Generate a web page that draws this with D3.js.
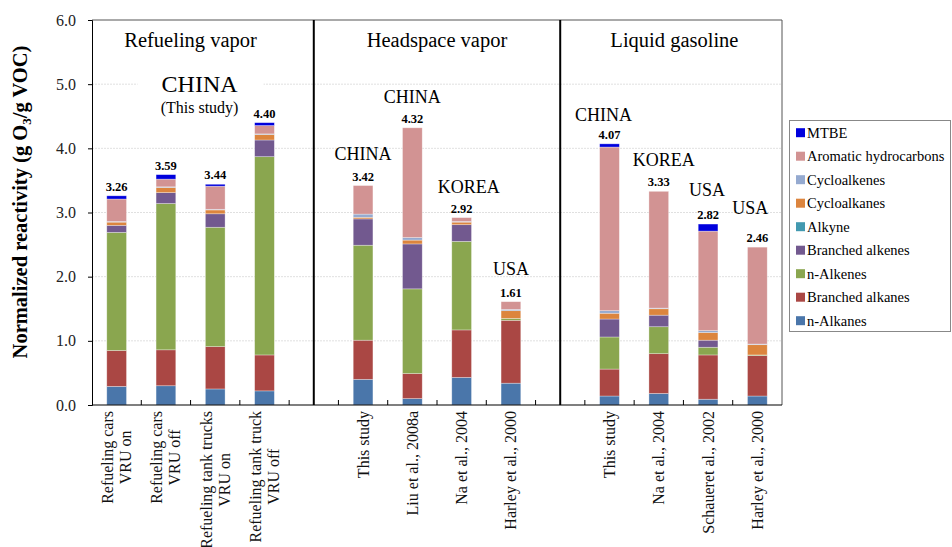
<!DOCTYPE html>
<html>
<head>
<meta charset="utf-8">
<script src="https://cdn.jsdelivr.net/npm/d3@7"></script>
</head>
<body style="margin:0;padding:0;background:#fff">
<svg id="chart" width="952" height="547" font-family="Liberation Serif, Times New Roman, serif" style="display:block"></svg>
<script>
// Category labels (one array of lines per bar) for the three groups
const refuelLabels = [["Refueling cars", "VRU on"], ["Refueling cars", "VRU off"], ["Refueling tank trucks", "VRU on"], ["Refueling tank truck", "VRU off"]];
const headspaceLabels = [["This study"], ["Liu et al., 2008a"], ["Na et al., 2004"], ["Harley et al., 2000"]];
const liquidLabels = [["This study"], ["Na et al., 2004"], ["Schaueret al., 2002"], ["Harley et al., 2000"]];
const groupTitles = ["Refueling vapor", "Headspace vapor", "Liquid gasoline"];

// Stack order, bottom to top
const seriesNames = ["n-Alkanes", "Branched alkanes", "n-Alkenes", "Branched alkenes", "Alkyne", "Cycloalkanes", "Cycloalkenes", "Aromatic hydrocarbons", "MTBE"];
const seriesColors = ["#4a76aa", "#aa4744", "#8aa64f", "#72598f", "#4299b0", "#dc853e", "#95aad0", "#d29393", "#0000dd"];

// Normalized reactivity contributions (g O3 / g VOC), 12 bars
const nAlkanes      = [0.29, 0.30, 0.25, 0.22, 0.40, 0.10, 0.43, 0.34, 0.14, 0.18, 0.09, 0.14];
const branchedAlk   = [0.56, 0.56, 0.66, 0.56, 0.61, 0.39, 0.74, 0.98, 0.42, 0.62, 0.69, 0.63];
const nAlkenes      = [1.84, 2.28, 1.86, 3.09, 1.48, 1.32, 1.38, 0.03, 0.50, 0.42, 0.12, 0.01];
const branchedAlke  = [0.11, 0.17, 0.21, 0.26, 0.41, 0.70, 0.26, 0.00, 0.28, 0.18, 0.11, 0.00];
const alkyne        = [0.00, 0.00, 0.00, 0.00, 0.00, 0.00, 0.00, 0.00, 0.00, 0.00, 0.00, 0.00];
const cycloalkanes  = [0.05, 0.08, 0.06, 0.085, 0.025, 0.06, 0.04, 0.12, 0.09, 0.10, 0.12, 0.16];
const cycloalkenes  = [0.01, 0.01, 0.01, 0.01, 0.05, 0.04, 0.01, 0.02, 0.04, 0.01, 0.03, 0.01];
const aromatics     = [0.35, 0.12, 0.36, 0.13, 0.445, 1.71, 0.06, 0.12, 2.55, 1.82, 1.55, 1.51];
const mtbe          = [0.05, 0.07, 0.03, 0.045, 0.00, 0.00, 0.00, 0.00, 0.05, 0.00, 0.11, 0.00];
const seriesValues = [nAlkanes, branchedAlk, nAlkenes, branchedAlke, alkyne, cycloalkanes, cycloalkenes, aromatics, mtbe];

const yTicks = [0, 1, 2, 3, 4, 5, 6];
const legendOrder = ["MTBE", "Aromatic hydrocarbons", "Cycloalkenes", "Cycloalkanes", "Alkyne", "Branched alkenes", "n-Alkenes", "Branched alkanes", "n-Alkanes"];

// ---- layout ----
const FONT = "Liberation Serif, Times New Roman, serif";
const svg = d3.select("#chart");
const plot = { left: 92, right: 782, top: 20, bottom: 405 };

// Bars and the two divider slots share one band scale
const allLabels = [...refuelLabels, ...headspaceLabels, ...liquidLabels];
const barIds = allLabels.map((_, i) => "bar" + i);
const slots = [...barIds.slice(0, 4), "div1", ...barIds.slice(4, 8), "div2", ...barIds.slice(8)];

const x = d3.scaleBand().domain(slots).range([plot.left, plot.right]).paddingInner(0.6).paddingOuter(0.3);
const y = d3.scaleLinear().domain([0, 6]).range([plot.bottom, plot.top]);
const cx = id => x(id) + x.bandwidth() / 2;

const rows = barIds.map((id, i) => {
  const r = { id };
  seriesNames.forEach((s, k) => r[s] = seriesValues[k][i]);
  return r;
});
const stacked = d3.stack().keys(seriesNames)(rows);
const color = d3.scaleOrdinal().domain(seriesNames).range(seriesColors);
const total = r => d3.sum(seriesNames, s => r[s]);

// gridlines
svg.append("g").selectAll("line").data(yTicks.filter(t => t > 0 && t < 6)).join("line")
  .attr("x1", plot.left).attr("x2", plot.right)
  .attr("y1", d => y(d)).attr("y2", d => y(d))
  .attr("stroke", "#d8d8d8").attr("stroke-width", 0.8).attr("stroke-dasharray", "2,1");

// frame (top & right)
svg.append("path")
  .attr("d", `M${plot.left},${plot.top}H${plot.right}V${plot.bottom}`)
  .attr("fill", "none").attr("stroke", "#555").attr("stroke-width", 1);

// "CHINA (This study)" block with white backing over the gridline
const p1Center = (cx("bar0") + cx("bar3")) / 2;
svg.append("rect").attr("x", p1Center - 53).attr("y", 70).attr("width", 126).attr("height", 48).attr("fill", "#fff");
svg.append("text").attr("x", p1Center + 9).attr("y", 92).attr("text-anchor", "middle")
  .attr("font-family", FONT).attr("font-size", 24).text("CHINA");
svg.append("text").attr("x", p1Center + 9).attr("y", 113).attr("text-anchor", "middle")
  .attr("font-family", FONT).attr("font-size", 16).text("(This study)");

// stacked bars
svg.append("g").selectAll("g").data(stacked).join("g")
  .attr("fill", d => color(d.key))
  .selectAll("rect").data(d => d).join("rect")
  .attr("x", d => x(d.data.id))
  .attr("width", x.bandwidth())
  .attr("y", d => y(d[1]))
  .attr("height", d => Math.max(0, y(d[0]) - y(d[1])))
  .attr("stroke", "#ffffff").attr("stroke-opacity", 0.45).attr("stroke-width", 0.7);

// totals above bars
svg.append("g").selectAll("text").data(rows).join("text")
  .attr("x", d => cx(d.id))
  .attr("y", d => y(total(d)) - 5)
  .attr("text-anchor", "middle").attr("font-family", FONT).attr("font-size", 12.5).attr("font-weight", "bold")
  .text(d => d3.format(".2f")(total(d)));

// group dividers
svg.append("g").selectAll("line").data(["div1", "div2"]).join("line")
  .attr("x1", d => cx(d)).attr("x2", d => cx(d))
  .attr("y1", plot.top).attr("y2", plot.bottom)
  .attr("stroke", "#000").attr("stroke-width", 2);

// axes
const yAxis = d3.axisLeft(y).tickValues(yTicks).tickFormat(d3.format(".1f")).tickSize(4).tickPadding(12);
const gy = svg.append("g").attr("transform", `translate(${plot.left},0)`).call(yAxis);
gy.attr("font-family", FONT);
gy.select(".domain").attr("stroke", "#000");
gy.selectAll("text").attr("font-family", FONT).attr("font-size", 16).attr("fill", "#222");

svg.append("line").attr("x1", plot.left).attr("x2", plot.right).attr("y1", plot.bottom).attr("y2", plot.bottom)
  .attr("stroke", "#000").attr("stroke-width", 1.2);
// inward ticks at every slot boundary
const step = x.step();
const boundaries = d3.range(1, slots.length).map(i => x(slots[0]) - x.paddingOuter() * step + i * step);
svg.append("g").selectAll("line").data(boundaries).join("line")
  .attr("x1", d => d).attr("x2", d => d).attr("y1", plot.bottom).attr("y2", plot.bottom - 5)
  .attr("stroke", "#000").attr("stroke-width", 1);

// rotated category labels
const labelTop = 411;
barIds.forEach((id, i) => {
  const lines = allLabels[i];
  const g = svg.append("g");
  const texts = lines.map(t => g.append("text")
    .attr("font-family", FONT).attr("font-size", 16).attr("fill", "#111").attr("text-anchor", "middle")
    .attr("dominant-baseline", "central").text(t));
  const maxLen = d3.max(texts, t => t.node().getComputedTextLength());
  const n = lines.length;
  texts.forEach((t, j) => {
    const px = cx(id) + (j - (n - 1) / 2) * 18;
    const py = labelTop + maxLen / 2;
    t.attr("transform", `translate(${px},${py}) rotate(-90)`);
  });
});

// group titles
const groupCenters = [p1Center, (cx("bar4") + cx("bar7")) / 2, (cx("bar8") + cx("bar11")) / 2 - 9];
svg.append("g").selectAll("text").data(groupTitles).join("text")
  .attr("x", (d, i) => groupCenters[i]).attr("y", 47)
  .attr("text-anchor", "middle").attr("font-family", FONT).attr("font-size", 20.5).text(d => d);

// country annotations
const notes = [
  { bar: "bar4", text: "CHINA", y: 160, dx: 0 },
  { bar: "bar5", text: "CHINA", y: 103, dx: 0 },
  { bar: "bar6", text: "KOREA", y: 193, dx: 7 },
  { bar: "bar7", text: "USA", y: 275, dx: 0 },
  { bar: "bar8", text: "CHINA", y: 121, dx: -6 },
  { bar: "bar9", text: "KOREA", y: 166, dx: 5 },
  { bar: "bar10", text: "USA", y: 196, dx: -1 },
  { bar: "bar11", text: "USA", y: 214, dx: -7 }
];
svg.append("g").selectAll("text").data(notes).join("text")
  .attr("x", d => cx(d.bar) + d.dx).attr("y", d => d.y)
  .attr("text-anchor", "middle").attr("font-family", FONT).attr("font-size", 18).text(d => d.text);

// y-axis title
const yTitle = svg.append("text")
  .attr("transform", `translate(27,202) rotate(-90)`)
  .attr("text-anchor", "middle").attr("font-family", FONT).attr("font-size", 20.5).attr("font-weight", "bold");
yTitle.append("tspan").text("Normalized reactivity (g O");
yTitle.append("tspan").attr("font-size", 13).attr("dy", 4).text("3");
yTitle.append("tspan").attr("dy", -4).text("/g VOC)");

// legend
const leg = svg.append("g");
leg.append("rect").attr("x", 789.5).attr("y", 120.5).attr("width", 161).attr("height", 211)
  .attr("fill", "#fff").attr("stroke", "#888");
const li = leg.selectAll("g").data(legendOrder).join("g")
  .attr("transform", (d, i) => `translate(796,${132.7 + i * 23.5})`);
li.append("rect").attr("x", 0).attr("y", -4.5).attr("width", 9).attr("height", 9).attr("fill", d => color(d));
li.append("text").attr("x", 11).attr("y", 0).attr("dominant-baseline", "central")
  .attr("font-family", FONT).attr("font-size", 14.5).text(d => d);
</script>
</body>
</html>
